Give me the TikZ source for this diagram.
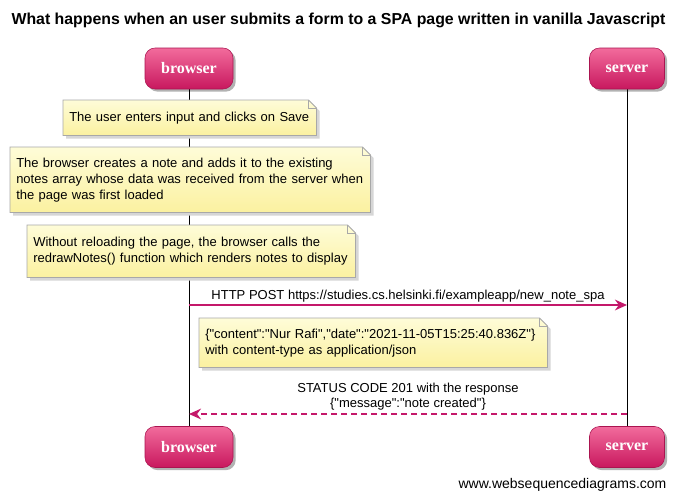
\documentclass[tikz,border=0pt]{standalone}
\usepackage{fontspec}
\setmainfont{Liberation Sans}
\newfontfamily\actorfont{Liberation Serif}
\usetikzlibrary{shadows,arrows.meta,backgrounds}
\definecolor{pinktop}{HTML}{F26B9C}
\definecolor{pinkbot}{HTML}{C8185E}
\definecolor{arrowc}{HTML}{C4186A}
\definecolor{notetop}{HTML}{FEFCD8}
\definecolor{notebot}{HTML}{FBF1A0}
\definecolor{noteline}{HTML}{A8A8A8}
\newcommand\qq{\textquotedbl}
\newcommand\drawnote[1]{%
  \begin{scope}[on background layer]
    \fill[black!16] ([shift={(2.25pt,-2.25pt)}]#1.south west) -- ([shift={(2.25pt,-2.25pt)}]#1.north west) -- ([shift={(-3.75pt,-2.25pt)}]#1.north east) -- ([shift={(2.25pt,-8.25pt)}]#1.north east) -- ([shift={(2.25pt,-2.25pt)}]#1.south east) -- cycle;
    \path[top color=notetop,bottom color=notebot,draw=noteline,line width=0.6pt] (#1.south west) -- (#1.north west) -- ([xshift=-6pt]#1.north east) -- ([yshift=-6pt]#1.north east) -- (#1.south east) -- cycle;
    \draw[noteline,line width=0.6pt] ([xshift=-6pt]#1.north east) -- ([xshift=-6pt,yshift=-6pt]#1.north east) -- ([yshift=-6pt]#1.north east);
  \end{scope}}
\begin{document}
\begin{tikzpicture}[x=0.75pt,y=-0.75pt,
  actor/.style={rounded corners=7.5pt, minimum height=41*0.75pt, inner sep=0pt,
    top color=pinktop, bottom color=pinkbot, draw=pinkbot!85!black, line width=0.4pt, text=white,
    font=\actorfont\bfseries\fontsize{12}{14}\selectfont,
    drop shadow={shadow xshift=2pt, shadow yshift=-2pt, opacity=0.3, fill=black}},
  notetext/.style={anchor=north west, align=left, inner xsep=4.5pt, inner ysep=0pt,
    font=\fontsize{9.75}{12}\selectfont},
  msglabel/.style={align=center, inner sep=0pt, font=\fontsize{9.75}{11.25}\selectfont},
  msg/.style={draw=arrowc, line width=1.5pt, -{Stealth[length=9pt,width=8pt]}},
  reply/.style={msg, dash pattern=on 4.5pt off 3pt},
  lifeline/.style={draw=black, line width=0.75pt}]
\useasboundingbox (0,0) rectangle (677,500);
\begin{scope}[on background layer]
\fill[white] (0,0) rectangle (677,500);
\end{scope}

\node[font=\bfseries\fontsize{11.9}{14}\selectfont] (title) at (338.5,20) {What happens when an user submits a form to a SPA page written in vanilla Javascript};

\node[actor, minimum width=88*0.75pt] (bTop) at (189,68.5) {browser};
\node[actor, minimum width=75*0.75pt] (sTop) at (627,68.5) {server};
\node[actor, minimum width=88*0.75pt] (bBot) at (189,447) {browser};
\node[actor, minimum width=75*0.75pt] (sBot) at (627,447) {server};

\begin{scope}[on background layer]
\draw[lifeline] (bTop.south) -- (bBot.north);
\draw[lifeline] (sTop.south) -- (sBot.north);
\end{scope}

\node[notetext, text width=(250-9)*0.75pt, minimum height=35*0.75pt] (n1) at (63,100) {The user enters input and clicks on Save};
\drawnote{n1}
\node[notetext, text width=(357-9)*0.75pt, minimum height=65*0.75pt] (n2) at (10,147) {The browser creates a note and adds it to the existing\\notes array whose data was received from the server when\\the page was first loaded};
\drawnote{n2}
\node[notetext, text width=(325-9)*0.75pt, minimum height=52*0.75pt] (n3) at (27,225) {Without reloading the page, the browser calls the\\redrawNotes() function which renders notes to display};
\drawnote{n3}

\coordinate (b1) at (189,305);
\coordinate (s1) at (627,305);
\draw[msg] (b1) -- (s1);
\node[msglabel] (l1) at (408,296.5) {HTTP POST https://studies.cs.helsinki.fi/exampleapp/new\_note\_spa};

\node[notetext, text width=(345-9)*0.75pt, minimum height=49*0.75pt] (n4) at (199,318) {\{\qq content\qq:\qq Nur Rafi\qq,\qq date\qq:\qq 2021-11-05T15:25:40.836Z\qq\}\\with content-type as application/json};
\drawnote{n4}

\coordinate (s2) at (627,414);
\coordinate (b2) at (189,414);
\draw[reply] (s2) -- (b2);
\node[msglabel] (l2) at (408,397) {STATUS CODE 201 with the response\\\{\qq message\qq:\qq note created\qq\}};

\node[font=\fontsize{10.5}{12}\selectfont, inner sep=0pt] (foot) at (562.5,485) {www.websequencediagrams.com};
\end{tikzpicture}
\end{document}
